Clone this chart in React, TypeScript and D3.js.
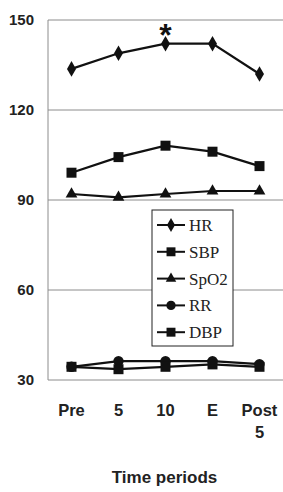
import React from "react";
import * as d3 from "d3";

const categories = ["Pre", "5", "10", "E", "Post 5"];
const yTicks = [30, 60, 90, 120, 150];
const seriesNames = ["HR", "SBP", "SpO2", "RR", "DBP"];
const hr = [133.7, 138.9, 142.1, 142.1, 132];
const sbp = [99.1, 104.3, 108.1, 106.1, 101.3];
const spo2 = [92, 90.9, 92, 93, 93];
const rr = [34.4, 36.3, 36.3, 36.3, 35.3];
const dbp = [34.4, 33.6, 34.4, 35.2, 34.4];
const markers = ["diamond", "square", "triangle", "circle", "square"];
const seriesValues = [hr, sbp, spo2, rr, dbp];

const W = 283, H = 492;
const left = 48, right = 283, top = 20, bottom = 380;

function symbolFor(kind: string, scale = 1) {
  switch (kind) {
    case "diamond": return d3.symbol(d3.symbolDiamond, 70 * scale);
    case "square": return d3.symbol(d3.symbolSquare, 100 * scale);
    case "triangle": return d3.symbol(d3.symbolTriangle, 60 * scale);
    default: return d3.symbol(d3.symbolCircle, 85 * scale);
  }
}

export default function App() {
  const x = d3.scalePoint<string>().domain(categories).range([left, right]).padding(0.5);
  const y = d3.scaleLinear().domain([30, 150]).range([bottom, top]);
  const line = d3.line<number>().x((_, i) => x(categories[i])!).y((d) => y(d));
  const sans = "'Liberation Sans', Arial, sans-serif";
  const serif = "'Liberation Serif', 'DejaVu Serif', serif";
  const legX = 152, legY = 210, legW = 81, legH = 136;
  return (
    <svg width={W} height={H} style={{ position: "absolute", left: 0, top: 0, background: "#fff" }}>
      {yTicks.map((t) => (
        <g key={t}>
          <line x1={left} x2={right} y1={y(t)} y2={y(t)} stroke="#8c8c8c" strokeWidth={1} />
          <text x={34} y={y(t)} dy="0.35em" textAnchor="end" fontFamily={sans} fontWeight="bold" fontSize={15} fill="#222">{t}</text>
        </g>
      ))}
      <line x1={left} x2={left} y1={top} y2={bottom} stroke="#8c8c8c" strokeWidth={1} />
      {categories.map((c) => {
        const parts = c.split(" ");
        return (
          <text key={c} x={x(c)} y={416} textAnchor="middle" fontFamily={sans} fontWeight="bold" fontSize={16.5} fill="#222">
            {parts.map((p, i) => (
              <tspan key={i} x={x(c)} dy={i === 0 ? 0 : 22}>{p}</tspan>
            ))}
          </text>
        );
      })}
      <text x={(left + right) / 2 - 1} y={483} textAnchor="middle" fontFamily={sans} fontWeight="bold" fontSize={17} fill="#222">Time periods</text>
      {seriesValues.map((vals, si) => (
        <g key={si}>
          <path d={line(vals)!} fill="none" stroke="#111" strokeWidth={2.2} />
          {vals.map((v, i) => (
            <path key={i} d={symbolFor(markers[si])()!} transform={`translate(${x(categories[i])},${y(v)})`} fill="#111" />
          ))}
        </g>
      ))}
      <text x={x("10")} y={46} textAnchor="middle" fontFamily={sans} fontWeight="bold" fontSize={32} fill="#111">*</text>
      <rect x={legX} y={legY} width={legW} height={legH} fill="#fff" stroke="#222" strokeWidth={1} />
      {seriesNames.map((n, i) => {
        const cy = legY + 15 + i * 26.8;
        return (
          <g key={n}>
            <line x1={157} x2={185} y1={cy} y2={cy} stroke="#111" strokeWidth={2} />
            <path d={symbolFor(markers[i], 0.8)()!} transform={`translate(171,${cy})`} fill="#111" />
            <text x={189} y={cy} dy="0.35em" fontFamily={serif} fontSize={17} fill="#222">{n}</text>
          </g>
        );
      })}
    </svg>
  );
}
